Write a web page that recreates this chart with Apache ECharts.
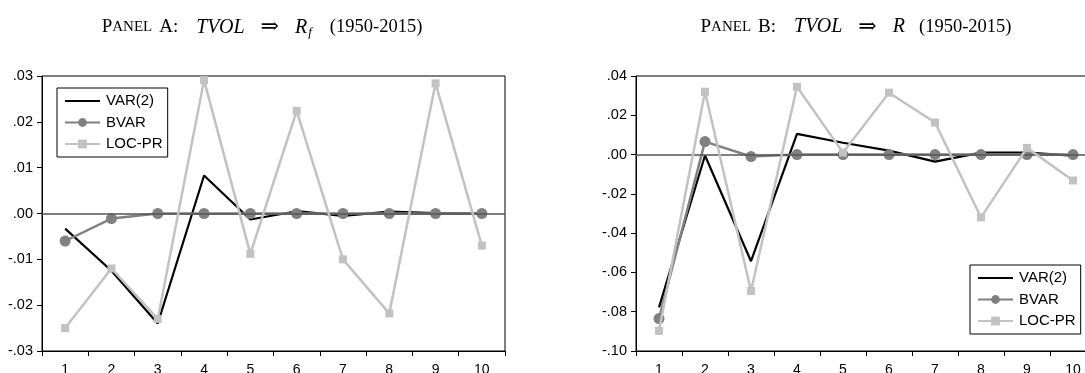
<!DOCTYPE html>
<html>
<head>
<meta charset="utf-8">
<script src="https://cdn.jsdelivr.net/npm/echarts@6/dist/echarts.min.js"></script>
<style>
  html, body { margin: 0; padding: 0; background: #fff; }
  #chart { width: 1085px; height: 373px; }
</style>
</head>
<body>
<div id="chart"></div>
<script>
// Categories (horizon)
var categories = ['1', '2', '3', '4', '5', '6', '7', '8', '9', '10'];

// Panel A: TVOL => Rf
var panelA_VAR2  = [-0.0033, -0.0125, -0.0240, 0.0083, -0.0013, 0.0005, -0.0005, 0.0004, 0.0001, 0.0000];
var panelA_BVAR  = [-0.0060, -0.0011, 0.0000, 0.0000, 0.0000, 0.0000, 0.0000, 0.0000, 0.0000, 0.0000];
var panelA_LOCPR = [-0.0250, -0.0120, -0.0230, 0.0291, -0.0088, 0.0224, -0.0100, -0.0218, 0.0284, -0.0070];

// Panel B: TVOL => R
var panelB_VAR2  = [-0.0778, -0.0005, -0.0543, 0.0105, 0.0060, 0.0020, -0.0036, 0.0010, 0.0010, -0.0005];
var panelB_BVAR  = [-0.0835, 0.0066, -0.0010, 0.0000, 0.0000, 0.0000, 0.0000, 0.0000, 0.0000, 0.0000];
var panelB_LOCPR = [-0.0898, 0.0320, -0.0695, 0.0345, 0.0010, 0.0315, 0.0163, -0.0320, 0.0034, -0.0132];

// Axis ranges
var yA = { min: -0.03, max: 0.03, interval: 0.01 };
var yB = { min: -0.10, max: 0.04, interval: 0.02 };

var FONT = 'Liberation Sans, Arial, sans-serif';
var SERIF = 'Liberation Serif, DejaVu Serif, serif';

function fmt(v) {
  var s = v.toFixed(2);
  if (s === '-0.00') s = '0.00';
  return s.replace('0.', '.');
}

function xAxisFor(idx) {
  return {
    type: 'category', gridIndex: idx, data: categories, boundaryGap: true,
    axisLine: { show: true, onZero: false, lineStyle: { color: '#000', width: 1 } },
    axisTick: { show: true, inside: false, length: 5, alignWithLabel: false, lineStyle: { color: '#000' } },
    axisLabel: { color: '#000', fontFamily: FONT, fontSize: 14, margin: 12 },
    splitLine: { show: false }
  };
}
function yAxisFor(idx, r) {
  return {
    type: 'value', gridIndex: idx, min: r.min, max: r.max, interval: r.interval,
    axisLine: { show: true, lineStyle: { color: '#000', width: 1 } },
    axisTick: { show: true, inside: false, length: 5, lineStyle: { color: '#000' } },
    axisLabel: { color: '#000', fontFamily: FONT, fontSize: 14.5, margin: 9, formatter: fmt },
    splitLine: { show: false }
  };
}

function seriesFor(idx, v, b, l) {
  return [
    {
      name: '_zero', type: 'line', xAxisIndex: idx, yAxisIndex: idx, data: [], z: 1, silent: true,
      markLine: { silent: true, symbol: 'none', label: { show: false },
        lineStyle: { color: '#555', width: 1.5, type: 'solid' },
        data: [{ yAxis: 0 }], animation: false }
    },
    {
      name: 'VAR(2)', type: 'line', xAxisIndex: idx, yAxisIndex: idx, data: v, z: 3,
      symbol: 'none', lineStyle: { color: '#000', width: 2.2 }, itemStyle: { color: '#000' }
    },
    {
      name: 'BVAR', type: 'line', xAxisIndex: idx, yAxisIndex: idx, data: b, z: 4,
      symbol: 'circle', symbolSize: 11, lineStyle: { color: '#808080', width: 2.5 },
      itemStyle: { color: '#808080' }
    },
    {
      name: 'LOC-PR', type: 'line', xAxisIndex: idx, yAxisIndex: idx, data: l, z: 5,
      symbol: 'rect', symbolSize: 8, lineStyle: { color: '#c2c2c2', width: 2.5 },
      itemStyle: { color: '#c2c2c2' }
    }
  ];
}

function legendFor(pos) {
  return Object.assign({
    orient: 'vertical',
    data: [{ name: 'VAR(2)', itemStyle: { opacity: 0 } }, 'BVAR', 'LOC-PR'],
    backgroundColor: '#fff', borderColor: '#000', borderWidth: 1,
    width: 96, height: 59,
    padding: [5, 5, 5, 7], itemGap: 5.5, itemWidth: 35, itemHeight: 11,
    textStyle: { color: '#000', fontFamily: FONT, fontSize: 15, lineHeight: 16, padding: [0, 0, 0, 1] },
    selectedMode: false
  }, pos);
}

var titleRich = {
  big: { fontFamily: SERIF, fontSize: 19, fontWeight: 'normal', color: '#000' },
  sc: { fontFamily: SERIF, fontSize: 15, fontWeight: 'normal', color: '#000' },
  it: { fontFamily: SERIF, fontSize: 20, fontWeight: 'normal', fontStyle: 'italic', color: '#000' },
  arr: { fontFamily: 'DejaVu Serif, serif', fontSize: 22, fontWeight: 'normal', color: '#000' },
  par: { fontFamily: SERIF, fontSize: 18.5, fontWeight: 'normal', color: '#000' },
  sub: { fontFamily: SERIF, fontSize: 13, fontWeight: 'normal', fontStyle: 'italic', color: '#000', padding: [10, 0, 0, 1] },
  g7: { width: 7, fontSize: 10 },
  g14: { width: 14, fontSize: 10 },
  g16: { width: 16, fontSize: 10 },
  g18: { width: 18, fontSize: 10 }
};

var titleA = '{big|P}{sc|ANEL}{g7| }{big|A:}{g18| }{it|TVOL}{g16| }{arr|⇒}{g16| }{it|R}{sub|f}{g18| }{par|(1950-2015)}';
var titleB = '{big|P}{sc|ANEL}{g7| }{big|B:}{g18| }{it|TVOL}{g16| }{arr|⇒}{g16| }{it|R}{g14| }{par|(1950-2015)}';

var chart = echarts.init(document.getElementById('chart'), null, { renderer: 'canvas' });
chart.setOption({
  animation: false,
  backgroundColor: '#fff',
  title: [
    { text: titleA, left: 257, top: 11, textAlign: 'center', textStyle: { fontWeight: 'normal', rich: titleRich } },
    { text: titleB, left: 851, top: 11, textAlign: 'center', textStyle: { fontWeight: 'normal', rich: titleRich } }
  ],
  grid: [
    { left: 42, top: 76, width: 463, height: 275, show: true, borderColor: '#000', borderWidth: 1,
      containLabel: false, outerBoundsMode: 'none' },
    { left: 636, top: 76, width: 460, height: 275, show: true, borderColor: '#000', borderWidth: 1,
      containLabel: false, outerBoundsMode: 'none' }
  ],
  legend: [
    legendFor({ left: 57, top: 88 }),
    legendFor({ left: 970, top: 265 })
  ],
  xAxis: [xAxisFor(0), xAxisFor(1)],
  yAxis: [yAxisFor(0, yA), yAxisFor(1, yB)],
  series: seriesFor(0, panelA_VAR2, panelA_BVAR, panelA_LOCPR)
    .concat(seriesFor(1, panelB_VAR2, panelB_BVAR, panelB_LOCPR))
});
</script>
</body>
</html>
